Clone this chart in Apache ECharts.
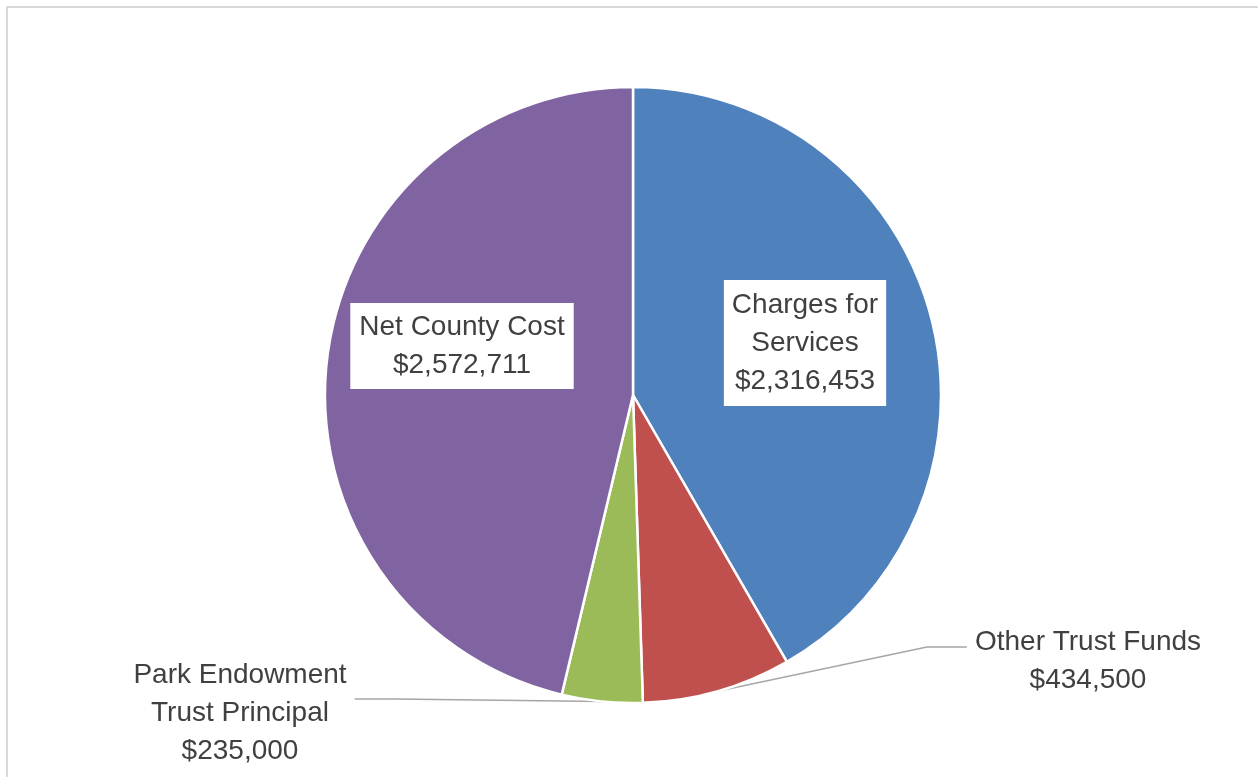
<!DOCTYPE html>
<html>
<head>
<meta charset="utf-8">
<script src="https://cdn.jsdelivr.net/npm/echarts@6/dist/echarts.min.js"></script>
<style>
html,body{margin:0;padding:0;background:#fff;}
#chart{width:1258px;height:777px;}
</style>
</head>
<body>
<div id="chart"></div>
<script>
const categories = ['Charges for\nServices', 'Other Trust Funds', 'Park Endowment\nTrust Principal', 'Net County Cost'];
const values = [2316453, 434500, 235000, 2572711];
const colors = ['#4F81BD', '#C0504D', '#9BBB59', '#8064A2'];
const insideLabel = [true, false, false, true];
// label placement (layout only)
const labelPos = [[805, 343], [1084, 647], [244, 699], [462, 346]];
const labelPad = [[6, 8, 6, 8], [0, 0, 0, 8], [0, 8, 0, 0], [5, 9, 5, 9]];

const fmt = v => '$' + v.toLocaleString('en-US');
const FONT = '"Liberation Sans", Arial, sans-serif';
const baseText = {color: '#404040', fontFamily: FONT, fontSize: 28, lineHeight: 38, align: 'center'};

const chart = echarts.init(document.getElementById('chart'), null, {renderer: 'canvas'});
const data = categories.map((c, i) => {
  const inside = insideLabel[i];
  return {
    name: c,
    value: values[i],
    itemStyle: {color: colors[i]},
    label: {
      position: inside ? 'inside' : 'outside',
      backgroundColor: inside ? '#ffffff' : 'transparent',
      padding: labelPad[i],
      formatter: p => {
        const lines = (p.name + '\n' + fmt(p.value)).split('\n').map(s => '{t|' + s + '}');
        if (!inside) lines.unshift('{g|}');
        return lines.join('\n');
      }
    },
    labelLine: {show: !inside}
  };
});

chart.setOption({
  animation: false,
  backgroundColor: '#ffffff',
  graphic: [{
    type: 'rect',
    shape: {x: 7, y: 7, width: 1300, height: 820},
    style: {fill: 'none', stroke: '#d9d9d9', lineWidth: 2},
    silent: true
  }],
  series: [{
    type: 'pie',
    center: [633, 395],
    radius: [0, 308],
    startAngle: 90,
    clockwise: true,
    data: data,
    itemStyle: {borderColor: '#ffffff', borderWidth: 2.5},
    label: Object.assign({
      show: true,
      rich: {
        t: Object.assign({}, baseText),
        g: {fontSize: 10, lineHeight: 28}
      }
    }, baseText),
    labelLine: {
      length: 20,
      length2: 40,
      lineStyle: {color: '#A6A6A6', width: 1.5}
    },
    labelLayout: function (params) {
      const p = labelPos[params.dataIndex];
      return {x: p[0], y: p[1], align: 'center', verticalAlign: 'middle'};
    }
  }]
});
</script>
</body>
</html>
